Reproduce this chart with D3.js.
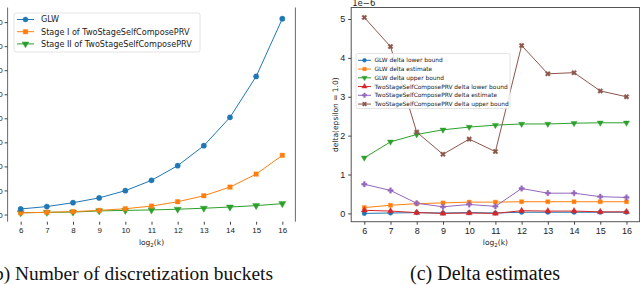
<!DOCTYPE html>
<html>
<head>
<meta charset="utf-8">
<script src="https://cdn.jsdelivr.net/npm/d3@7"></script>
<style>
  html, body { margin: 0; padding: 0; background: #fff; }
  svg { display: block; font-family: "DejaVu Sans", sans-serif; }
</style>
</head>
<body>
<svg id="chart" width="640" height="285"></svg>
<script>
// ---------- data ----------
const logK = [6, 7, 8, 9, 10, 11, 12, 13, 14, 15, 16];

// left panel: number of buckets
const bucketTicks = [0, 10000, 20000, 30000, 40000, 50000, 60000, 70000, 80000];
const glwBuckets    = [2300, 3300, 4900, 6900, 9900, 14200, 20300, 28600, 40400, 57400, 81400];
const stage1Buckets = [700, 900, 1200, 1700, 2400, 3500, 5300, 7800, 11400, 16800, 24600];
const stage2Buckets = [700, 900, 1000, 1500, 1700, 1900, 2200, 2600, 3100, 3700, 4500];

// right panel: delta estimates (x 1e-6)
const deltaTicks = [0, 1, 2, 3, 4, 5];
const glwLower = [0.00, 0.01, 0.02, 0.01, 0.02, 0.01, 0.03, 0.03, 0.03, 0.03, 0.03];
const glwEst   = [0.15, 0.21, 0.25, 0.27, 0.29, 0.29, 0.30, 0.30, 0.30, 0.30, 0.30];
const glwUpper = [1.43, 1.84, 2.03, 2.15, 2.22, 2.27, 2.30, 2.30, 2.32, 2.33, 2.33];
const tsLower  = [0.08, 0.06, 0.02, 0.00, 0.01, 0.00, 0.07, 0.06, 0.06, 0.04, 0.04];
const tsEst    = [0.75, 0.59, 0.26, 0.17, 0.23, 0.18, 0.64, 0.52, 0.52, 0.43, 0.41];
const tsUpper  = [5.04, 4.29, 2.09, 1.52, 1.91, 1.59, 4.32, 3.59, 3.62, 3.15, 3.00];

const C = ['#1f77b4', '#ff7f0e', '#2ca02c', '#d62728', '#9467bd', '#8c564b'];

const svg = d3.select('#chart');

// ---------- marker helper ----------
function marker(g, kind, size, colour) {
  let type = d3.symbolCircle, rot = 0;
  if (kind === 's') type = d3.symbolSquare;
  if (kind === 'v') { type = d3.symbolTriangle; rot = 180; }
  if (kind === '^') type = d3.symbolTriangle;
  if (kind === 'P') type = d3.symbolCross;
  if (kind === 'X') { type = d3.symbolCross; rot = 45; }
  const p = g.append('path')
    .attr('d', d3.symbol().type(type).size(size)())
    .attr('fill', colour)
    .attr('stroke', colour)
    .attr('stroke-width', 0.4);
  p.node().__rot = rot;
  return p;
}

function drawSeries(g, x, y, vals, colour, kind, size) {
  const line = d3.line().x((d, i) => x(logK[i])).y(d => y(d));
  g.append('path')
    .datum(vals)
    .attr('d', line)
    .attr('fill', 'none')
    .attr('stroke', colour)
    .attr('stroke-width', 1);
  vals.forEach((v, i) => {
    const m = marker(g, kind, size, colour);
    m.attr('transform', `translate(${x(logK[i])},${y(v)}) rotate(${m.node().__rot})`);
  });
}

function log2Label(g, cx) {
  const xl = g.append('text').attr('x', cx).attr('y', 245)
    .attr('text-anchor', 'middle').attr('font-size', 7.5).attr('fill', '#222');
  xl.append('tspan').text('log');
  xl.append('tspan').attr('font-size', 5.5).attr('dy', 2).text('2');
  xl.append('tspan').attr('dy', -2).text('(k)');
}

// ================= left panel =================
{
  const left = 7.6, right = 295.4, top = 7.5, bottom = 221.7;
  const x = d3.scaleLinear().domain([5.5, 16.5]).range([left, right]);
  const y = d3.scaleLinear().domain([0, 80000]).range([214.5, 214.5 - 8 * 24.05]);
  const g = svg.append('g');

  g.append('line').attr('x1', left).attr('x2', left).attr('y1', top).attr('y2', bottom)
    .attr('stroke', '#444').attr('stroke-width', 0.8);
  g.append('line').attr('x1', right).attr('x2', right).attr('y1', top).attr('y2', bottom)
    .attr('stroke', '#444').attr('stroke-width', 0.8);

  // tick labels run off the left edge, as in the cropped original
  const ya = g.append('g').attr('transform', `translate(${left},0)`)
    .call(d3.axisLeft(y).tickValues(bucketTicks).tickSize(3).tickPadding(2).tickFormat(d3.format('d')));
  ya.select('.domain').remove();
  ya.selectAll('text').attr('font-size', 8).attr('fill', '#222');
  ya.selectAll('line').attr('stroke', '#444');

  const xa = g.append('g').attr('transform', `translate(0,${bottom})`)
    .call(d3.axisBottom(x).tickValues(logK).tickSize(3).tickPadding(3).tickFormat(d3.format('d')));
  xa.select('.domain').remove();
  xa.selectAll('text').attr('font-size', 8).attr('fill', '#222');
  xa.selectAll('line').attr('stroke', '#444');

  log2Label(g, (left + right) / 2);

  drawSeries(g, x, y, stage2Buckets, C[2], 'v', 22);
  drawSeries(g, x, y, stage1Buckets, C[1], 's', 20);
  drawSeries(g, x, y, glwBuckets, C[0], 'o', 22);

  // legend
  const names = ['GLW', 'Stage I of TwoStageSelfComposePRV', 'Stage II of TwoStageSelfComposePRV'];
  const kinds = ['o', 's', 'v'];
  const lg = g.append('g');
  lg.append('rect').attr('x', 14).attr('y', 13).attr('width', 186).attr('height', 39)
    .attr('rx', 2).attr('fill', '#fff').attr('fill-opacity', 0.85)
    .attr('stroke', '#ddd').attr('stroke-width', 0.8);
  names.forEach((n, i) => {
    const yy = 19.5 + i * 12.2;
    lg.append('line').attr('x1', 17).attr('x2', 34).attr('y1', yy).attr('y2', yy)
      .attr('stroke', C[i]).attr('stroke-width', 1);
    const m = marker(lg, kinds[i], 20, C[i]);
    m.attr('transform', `translate(25.5,${yy}) rotate(${m.node().__rot})`);
    lg.append('text').attr('x', 41).attr('y', yy + 2.8).attr('font-size', 8.1)
      .attr('fill', '#222').text(n);
  });

  svg.append('text').attr('x', 273).attr('y', 280).attr('text-anchor', 'end')
    .attr('font-family', '"Liberation Serif", serif').attr('font-size', 19.4)
    .attr('fill', '#111').text('(b) Number of discretization buckets');
}

// ================= right panel =================
{
  const left = 351.2, right = 639.6, top = 7.5, bottom = 221.7;
  const x = d3.scaleLinear().domain([5.5, 16.5]).range([left, right]);
  const y = d3.scaleLinear().domain([0, 5]).range([213.4, 19]);
  const g = svg.append('g');

  g.append('rect').attr('x', left).attr('y', top).attr('width', right - left).attr('height', bottom - top)
    .attr('fill', 'none').attr('stroke', '#555').attr('stroke-width', 1);

  const ya = g.append('g').attr('transform', `translate(${left},0)`)
    .call(d3.axisLeft(y).tickValues(deltaTicks).tickSize(3).tickPadding(3).tickFormat(d3.format('d')));
  ya.select('.domain').remove();
  ya.selectAll('text').attr('font-size', 9).attr('fill', '#222');
  ya.selectAll('line').attr('stroke', '#444');

  const xa = g.append('g').attr('transform', `translate(0,${bottom})`)
    .call(d3.axisBottom(x).tickValues(logK).tickSize(3).tickPadding(3).tickFormat(d3.format('d')));
  xa.select('.domain').remove();
  xa.selectAll('text').attr('font-size', 9).attr('fill', '#222');
  xa.selectAll('line').attr('stroke', '#444');

  g.append('text').attr('x', left + 1).attr('y', 5.5).attr('font-size', 8.5)
    .attr('fill', '#222').text('1e\u22126');

  log2Label(g, (left + right) / 2);

  g.append('text').attr('transform', `translate(337.5,${(top + bottom) / 2}) rotate(-90)`)
    .attr('text-anchor', 'middle').attr('font-size', 7.5).attr('fill', '#222')
    .text('delta(epsilon = 1.0)');

  const series = [glwLower, glwEst, glwUpper, tsLower, tsEst, tsUpper];
  const kinds = ['o', 's', 'v', '^', 'P', 'X'];
  const names = ['GLW delta lower bound', 'GLW delta estimate', 'GLW delta upper bound',
    'TwoStageSelfComposePRV delta lower bound', 'TwoStageSelfComposePRV delta estimate',
    'TwoStageSelfComposePRV delta upper bound'];
  series.forEach((s, i) => drawSeries(g, x, y, s, C[i], kinds[i], 16));

  const lg = g.append('g');
  lg.append('rect').attr('x', 356).attr('y', 53.5).attr('width', 154).attr('height', 55)
    .attr('rx', 2).attr('fill', '#fff').attr('fill-opacity', 0.85)
    .attr('stroke', '#ddd').attr('stroke-width', 0.8);
  names.forEach((n, i) => {
    const yy = 60.3 + i * 8.75;
    lg.append('line').attr('x1', 358).attr('x2', 371).attr('y1', yy).attr('y2', yy)
      .attr('stroke', C[i]).attr('stroke-width', 1);
    const m = marker(lg, kinds[i], 12, C[i]);
    m.attr('transform', `translate(364.5,${yy}) rotate(${m.node().__rot})`);
    lg.append('text').attr('x', 374.5).attr('y', yy + 2).attr('font-size', 5.9)
      .attr('fill', '#222').text(n);
  });

  svg.append('text').attr('x', 485).attr('y', 280).attr('text-anchor', 'middle')
    .attr('font-family', '"Liberation Serif", serif').attr('font-size', 20)
    .attr('fill', '#111').text('(c) Delta estimates');
}
</script>
</body>
</html>
